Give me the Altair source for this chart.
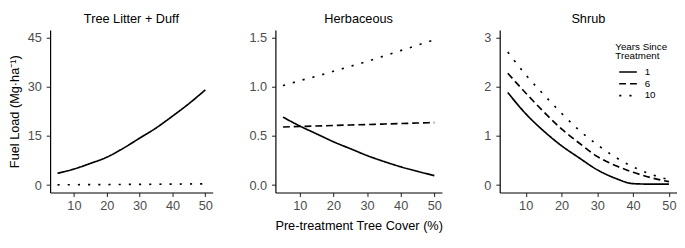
import altair as alt
import pandas as pd

FONT = "Liberation Sans"

XS = [5, 10, 15, 20, 25, 30, 35, 40, 45, 50]
X_TICKS = [10, 20, 30, 40, 50]
YEARS = ["1", "6", "10"]

# Tree Litter + Duff
litter_1 = [3.6, 4.9, 6.6, 8.5, 11.2, 14.3, 17.4, 21.0, 24.8, 29.0]
litter_10 = [0.10, 0.12, 0.14, 0.17, 0.20, 0.23, 0.27, 0.31, 0.35, 0.40]
# Herbaceous
herb_1 = [0.69, 0.60, 0.52, 0.44, 0.37, 0.30, 0.24, 0.186, 0.14, 0.096]
herb_6 = [0.590, 0.595, 0.600, 0.605, 0.610, 0.615, 0.620, 0.625, 0.630, 0.635]
herb_10 = [1.01, 1.06, 1.105, 1.155, 1.205, 1.255, 1.31, 1.365, 1.42, 1.475]
# Shrub
shrub_1 = [1.88, 1.45, 1.10, 0.80, 0.55, 0.31, 0.14, 0.03, 0.02, 0.02]
shrub_6 = [2.27, 1.87, 1.49, 1.14, 0.85, 0.58, 0.40, 0.26, 0.15, 0.07]
shrub_10 = [2.70, 2.24, 1.84, 1.46, 1.11, 0.82, 0.57, 0.37, 0.22, 0.11]

Y1_TICKS = [0, 15, 30, 45]
Y2_TICKS = [0, 0.5, 1.0, 1.5]
Y3_TICKS = [0, 1, 2, 3]


def frame(series):
    rows = []
    for k, ys in series.items():
        for x, y in zip(XS, ys):
            rows.append({"x": x, "y": y, "years": k})
    return pd.DataFrame(rows)


dash_scale = alt.Scale(domain=YEARS, range=[[1, 0], [7, 4], [2.2, 8.2]])
width_scale = alt.Scale(domain=YEARS, range=[1.7, 1.7, 2.2])


def panel(title, series, ydom, yticks, yfmt, width, ytitle=None, xtitle=None, legend=None):
    df = frame(series)
    xaxis = alt.Axis(values=X_TICKS, labelFlush=False, title=xtitle)
    yaxis = alt.Axis(values=yticks, format=yfmt, title=ytitle)
    return alt.Chart(df, title=title).mark_line(
        color="black", interpolate="monotone", strokeCap="butt"
    ).encode(
        x=alt.X("x:Q", scale=alt.Scale(domain=[2.75, 52.25], nice=False, zero=False), axis=xaxis),
        y=alt.Y("y:Q", scale=alt.Scale(domain=ydom, nice=False, zero=False), axis=yaxis),
        strokeDash=alt.StrokeDash("years:N", scale=dash_scale, sort=YEARS, legend=legend),
        strokeWidth=alt.StrokeWidth("years:N", scale=width_scale, sort=YEARS, legend=None),
        detail="years:N",
    ).properties(width=width, height=166)


p1 = panel("Tree Litter + Duff", {"1": litter_1, "10": litter_10},
           [-2.25, 47.25], Y1_TICKS, "d", 166, ytitle="Fuel Load (Mg·ha⁻¹)")
p2 = panel("Herbaceous", {"1": herb_1, "6": herb_6, "10": herb_10},
           [-0.075, 1.575], Y2_TICKS, ".1f", 170, xtitle="Pre-treatment Tree Cover (%)")
p3 = panel("Shrub", {"1": shrub_1, "6": shrub_6, "10": shrub_10},
           [-0.15, 3.15], Y3_TICKS, "d", 181,
           legend=alt.Legend(title=["Years Since", "Treatment"], orient="none",
                             legendX=118, legendY=12, titlePadding=4,
                             symbolType="M-0.5,0H2.5", symbolSize=144,
                             rowPadding=0, labelOffset=16))

inner = alt.hconcat(p1, p2, spacing=36).resolve_scale(
    strokeDash="independent", strokeWidth="independent")
chart = alt.hconcat(inner, p3, spacing=41).resolve_scale(
    strokeDash="independent", strokeWidth="independent"
).properties(padding={"top": 3, "left": 0, "right": 0, "bottom": 0}).configure_view(
    stroke=None
).configure_axis(
    grid=False, domainColor="black", domainWidth=1.2, tickColor="#333333",
    tickWidth=1.1, tickSize=4, labelColor="#4d4d4d", labelFontSize=13,
    labelFont=FONT, titleFont=FONT, titleFontSize=13, titleFontWeight="normal",
    titleColor="black", titlePadding=6
).configure_axisY(labelPadding=5).configure_axisX(labelPadding=3, titlePadding=8).configure_title(
    font=FONT, fontSize=13, fontWeight="normal", color="black", anchor="middle", offset=4
).configure_legend(
    titleFont=FONT, titleFontSize=10, titleFontWeight="normal", titleColor="black",
    labelFont=FONT, labelFontSize=10, labelColor="black", symbolStrokeWidth=1.7,
    symbolStrokeColor="black", titleLineHeight=10
)

chart.save("out.html", embed_options={"renderer": "svg", "actions": False})
